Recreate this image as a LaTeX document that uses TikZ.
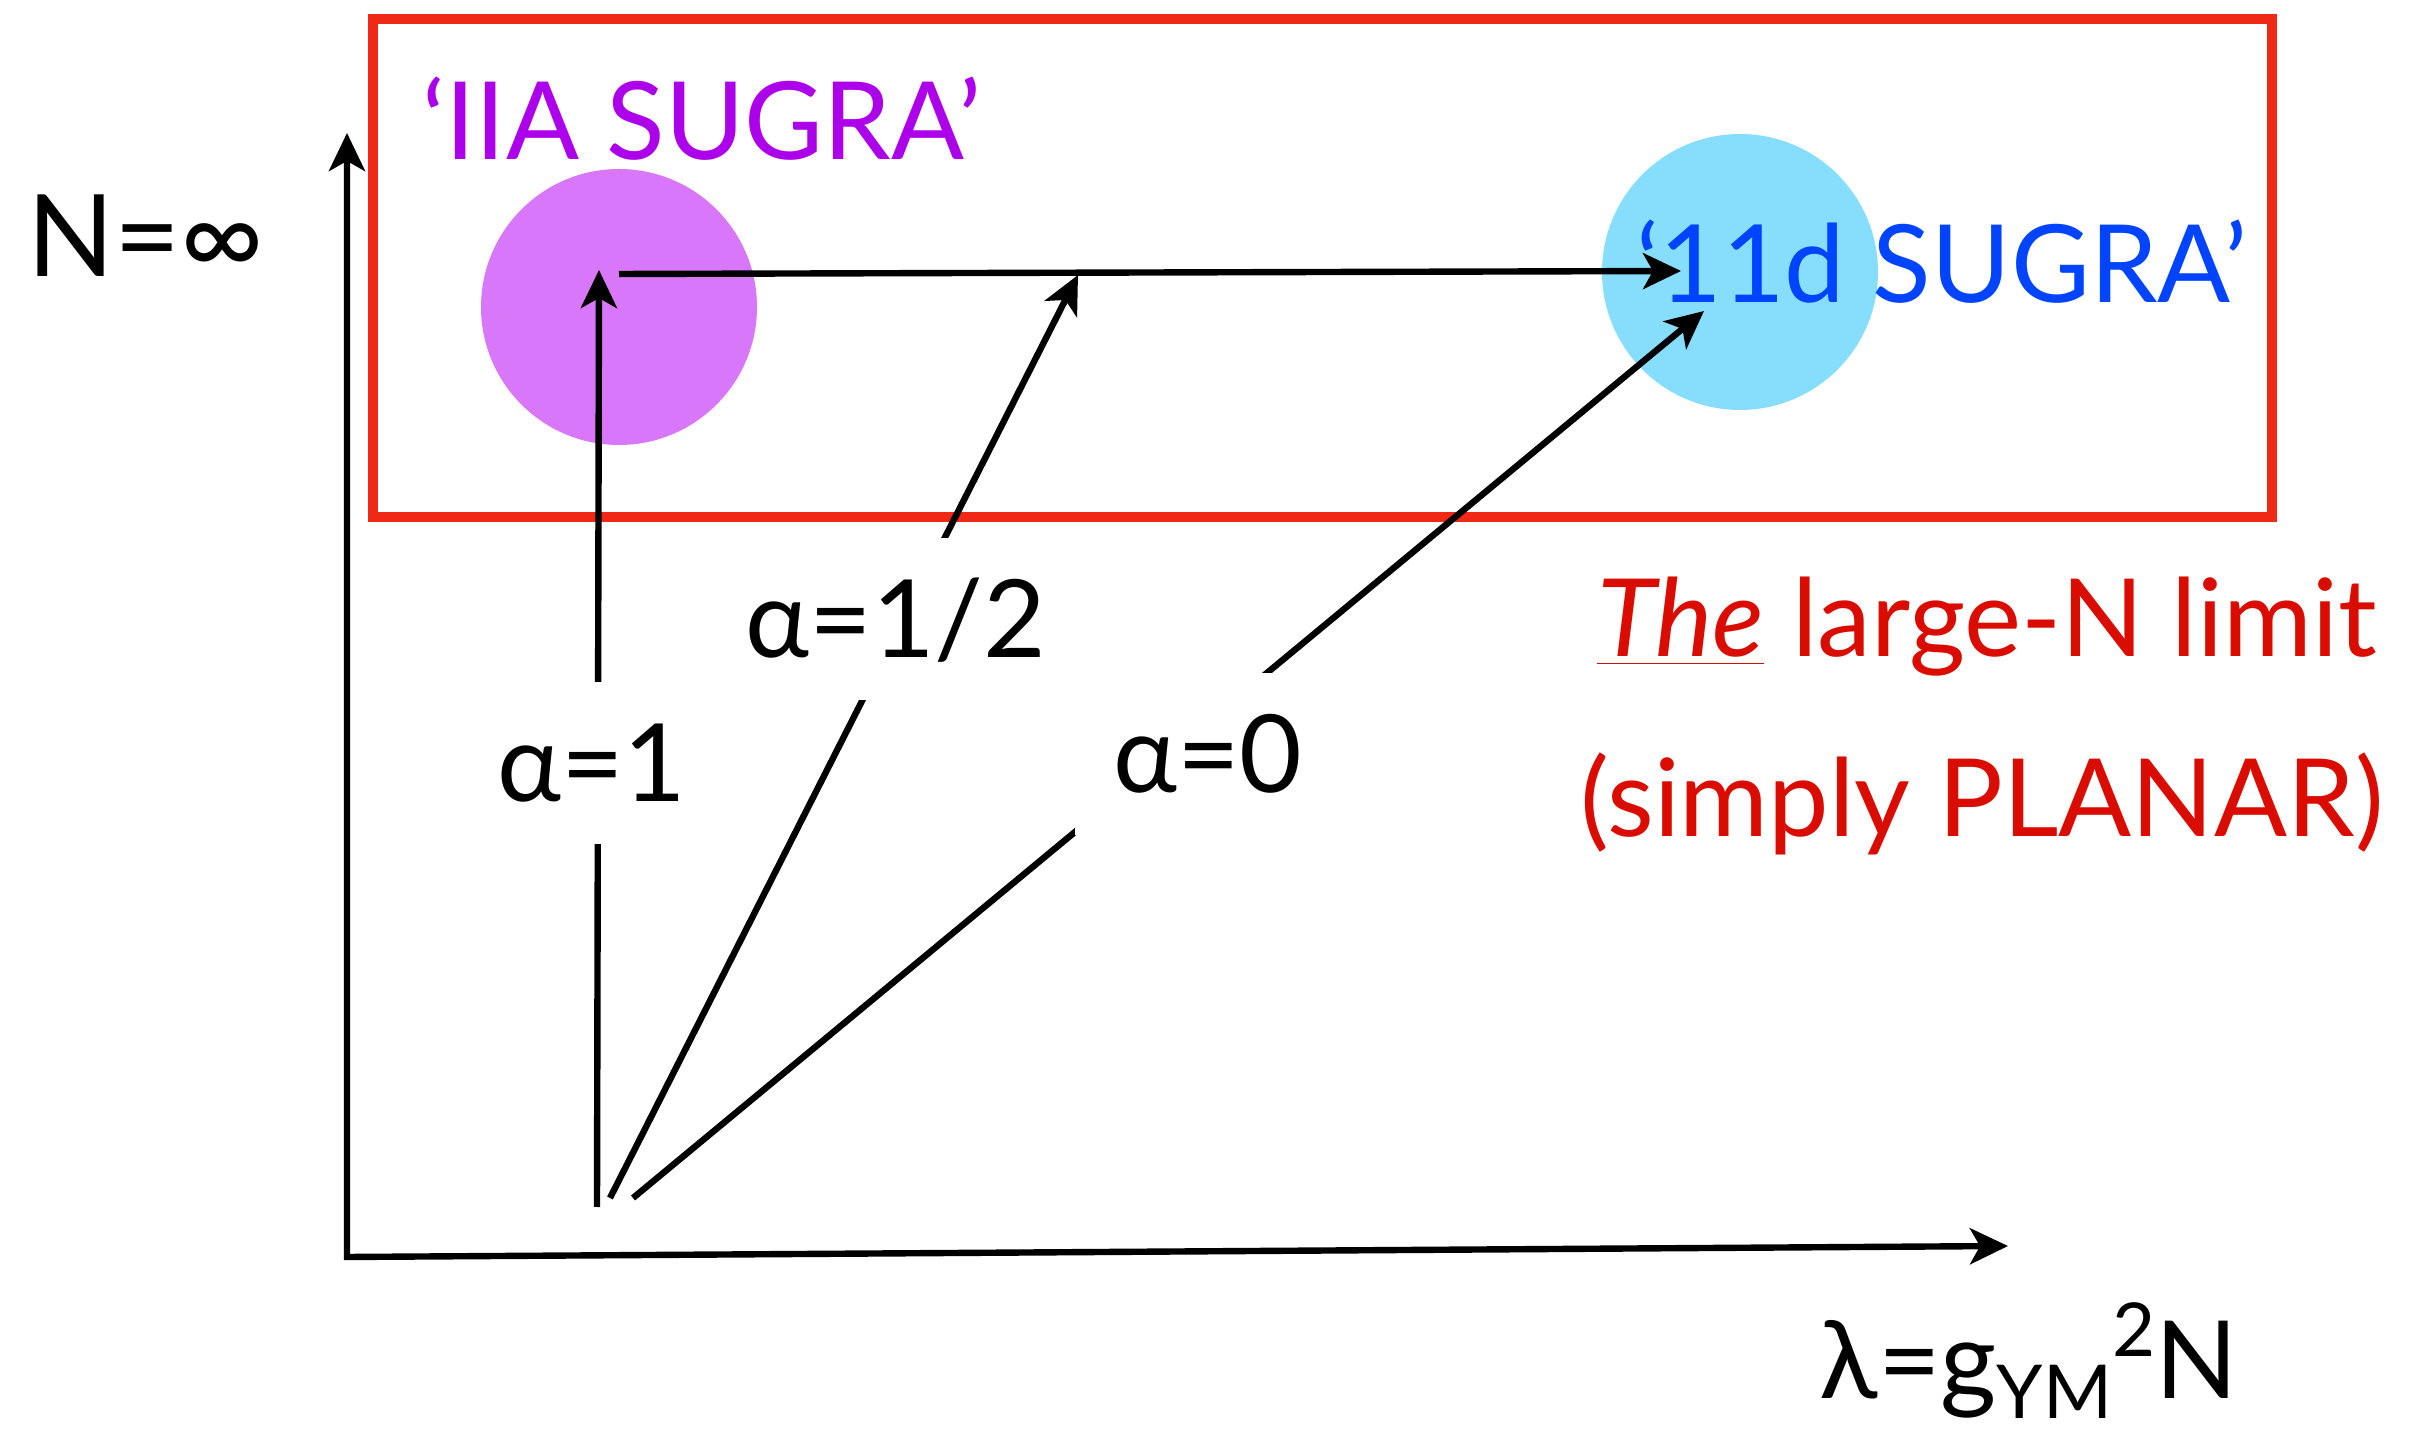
\documentclass[tikz,border=0pt]{standalone}
\usepackage{fontspec}
\setmainfont{Lato}
\usetikzlibrary{arrows.meta}
\definecolor{boxred}{RGB}{240,40,22}
\definecolor{txtred}{RGB}{218,12,0}
\definecolor{iiapurple}{RGB}{172,0,235}
\definecolor{iiafill}{RGB}{217,119,250}
\definecolor{mblue}{RGB}{0,68,255}
\definecolor{mfill}{RGB}{135,222,252}
\begin{document}
\begin{tikzpicture}[x=0.25pt,y=-0.25pt,
  tip/.tip={Stealth[length=9.5pt,width=9pt,inset=2.5pt]},
  axisline/.style={line width=1.6pt,tip-tip},
  flow/.style={line width=1.6pt,-tip},
  big/.style={font=\fontsize{27}{32}\selectfont, inner sep=0pt, anchor=base},
  alab/.style={big, fill=white, inner xsep=9.5pt, inner ysep=10.5pt, text height=19.5pt, text depth=0pt},
  blob/.style={circle, minimum size=69pt, inner sep=0pt}]
\useasboundingbox (0,0) rectangle (2422,1432);
% limit box
\node[draw=boxred, line width=2.5pt, minimum width=474.75pt, minimum height=124.5pt, inner sep=0pt, anchor=north west] (limitbox) at (368,14) {};
% blobs
\node[blob, fill=iiafill] (iia) at (619,307) {};
\node[blob, fill=mfill] (m11) at (1740,272) {};
% coordinates
\coordinate (orig) at (347,1257);
\coordinate (ytip) at (347,133);
\coordinate (xtip) at (2008,1246);
\coordinate (o1) at (597,1207);
\coordinate (o2) at (610,1198);
\coordinate (o3) at (633,1198);
\coordinate (t1) at (599,270);
\coordinate (h0) at (619,274);
\coordinate (t2) at (1078,275);
\coordinate (th) at (1681,271);
\coordinate (t3) at (1704,311);
% axes
\draw[axisline] (ytip) -- (orig) -- (xtip);
% flows
\draw[flow] (o1) -- (t1);
\draw[flow] (h0) -- (th);
\draw[flow] (o2) -- (t2);
\draw[flow] (o3) -- (t3);
% labels on lines
\node[alab] (a1) at (592,802) {α=1};
\node[alab] (a2) at (896,658) {α=1/2};
\node[alab] (a0) at (1208,793) {α=0};
% other texts
\node[big, font=\fontsize{28.5}{32}\selectfont] (ninf) at (146,277) {N=∞};
\node[big, text=iiapurple] (iiatxt) at (702,160) {‘IIA SUGRA’};
\node[big, text=mblue] (m11txt) at (1942,303) {‘11d SUGRA’};
\node[big, text=txtred] (lim1) at (1987,657) {\underline{\textit{The}} large-N limit};
\node[big, text=txtred] (lim2) at (1982,837) {(simply PLANAR)};
\node[big] (lam) at (2029,1398) {λ=g\raisebox{-5pt}{\fontsize{18.6}{20}\selectfont YM}\raisebox{10.5pt}{\fontsize{18.6}{20}\selectfont 2}N};
\end{tikzpicture}
\end{document}
